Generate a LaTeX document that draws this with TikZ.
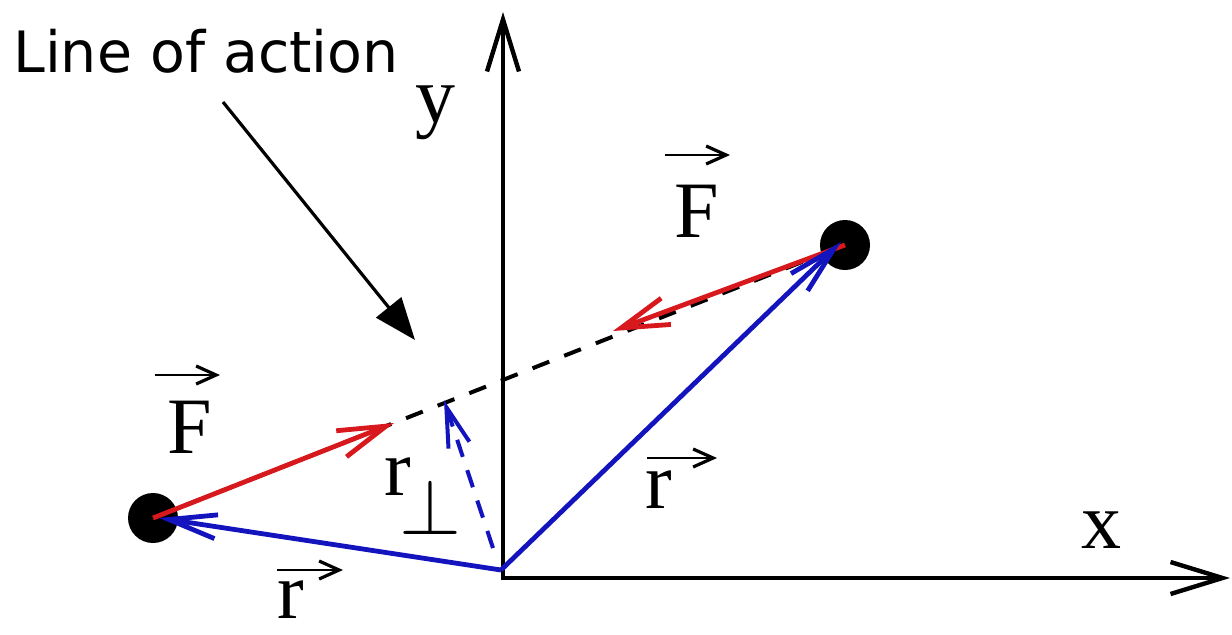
\documentclass[tikz,border=0pt]{standalone}
\usepackage{fontspec}
\setmainfont{Liberation Serif}
\newfontfamily\labfont{DejaVu Sans}
\usetikzlibrary{arrows.meta}
\definecolor{fred}{RGB}{215,25,30}
\definecolor{rblue}{RGB}{20,20,190}
\begin{document}
\begin{tikzpicture}[x=0.5pt,y=-0.5pt,
  axis/.style={line width=1.8pt,-{Straight Barb[length=26pt,width=16pt,line width=2.2pt]}},
  forcearrow/.style={fred,line width=2.4pt,-{Straight Barb[length=24pt,width=14pt]}},
  posarrow/.style={rblue,line width=2.4pt,-{Straight Barb[length=24pt,width=12pt]}},
  perparrow/.style={rblue,line width=2pt,dash pattern=on 9pt off 7pt,-{Straight Barb[length=20pt,width=11pt]}},
  actline/.style={line width=2pt,dash pattern=on 9pt off 8pt},
  pointer/.style={line width=1.6pt,-{Triangle[length=21pt,width=16pt]}},
  vecar/.style={line width=1.3pt,-{Straight Barb[length=10pt,width=9pt,line width=1.6pt]}},
  lab/.style={inner sep=0pt,font=\fontsize{40}{48}\selectfont},
  particle/.style={circle,fill=black,minimum size=25pt,inner sep=0pt}]
\useasboundingbox (0,0) rectangle (1232,634);
% coordinates
\coordinate (O) at (503,578);
\coordinate (Ob) at (501,570);
\coordinate (Xe) at (1230,578);
\coordinate (Ye) at (503,12);
\coordinate (Foot) at (444,400);
\coordinate (FtipR) at (613,331);
\coordinate (FtipL) at (394,423);
\coordinate (Pa) at (223,102);
\coordinate (Pb) at (415,340);
\coordinate (P1c) at (845,245);
\coordinate (P2c) at (153,518);
% axes
\draw[axis] ([xshift=-1pt]O) -- (Xe);
\draw[axis] ([yshift=-1pt]O) -- (Ye);
% line of action
\draw[actline] (P2c) -- (P1c);
% particles
\node[particle] (P1) at (P1c) {};
\node[particle] (P2) at (P2c) {};
% forces
\draw[forcearrow] (P1.center) -- (FtipR);
\draw[forcearrow] (P2.center) -- (FtipL);
% position vectors
\draw[posarrow] (Ob) -- ([shift={(-4,-3)}]P1.center);
\draw[posarrow] (Ob) -- ([shift={(6,0)}]P2.center);
\draw[perparrow] ([shift={(-8,-22)}]Ob) -- (Foot);
% pointer
\node[anchor=base west,inner sep=0pt,font=\labfont\fontsize{28.5}{34}\selectfont] (LA) at (13,72) {Line of action};
\draw[pointer] (Pa) -- (Pb);
% labels
\node[lab] (Ly) at (435,113) {y};
\node[lab] (Lx) at (1101,530) {x};
\node[lab] (Fu) at (697,211) {F};
\node[lab] (Fl) at (190,427) {F};
\node[lab] (rr) at (659,490) {r};
\node[lab,anchor=north] (rb) at (291,580) {r};
\node[lab,anchor=base west] (rp) at (384,495) {r\kern-6pt\raisebox{-19.5pt}{\scalebox{1.6}{\fontsize{24.88}{30}\selectfont$\perp$}}};
% vector arrows above labels
\draw[vecar] ([shift={(-32,-56)}]Fu.center) -- ([shift={(33,-56)}]Fu.center);
\draw[vecar] ([shift={(-35,-52)}]Fl.center) -- ([shift={(30,-52)}]Fl.center);
\draw[vecar] ([shift={(-12,-32)}]rr.center) -- ([shift={(58,-32)}]rr.center);
\draw[vecar] ([shift={(-14,-10)}]rb.north) -- ([shift={(52,-10)}]rb.north);
\end{tikzpicture}
\end{document}
